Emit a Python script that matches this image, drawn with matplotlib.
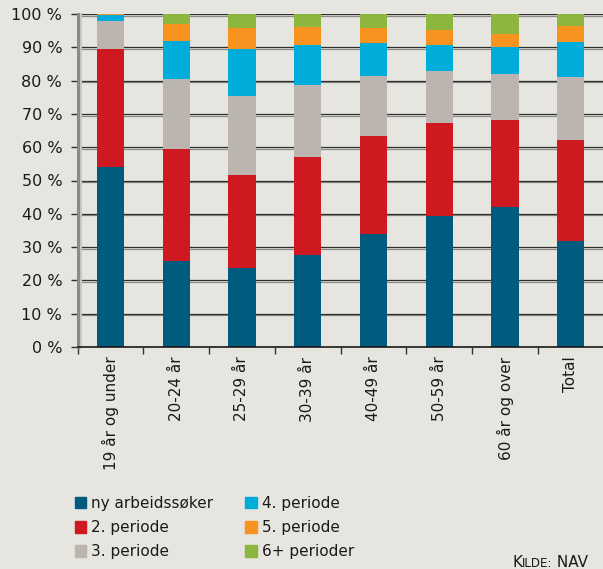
import matplotlib
matplotlib.use("Agg")
import matplotlib.pyplot as plt
import matplotlib.patheffects as pe
import numpy as np

categories = ["19 år og under", "20-24 år", "25-29 år", "30-39 år",
              "40-49 år", "50-59 år", "60 år og over", "Total"]
series_names = ["ny arbeidssøker", "2. periode", "3. periode",
                "4. periode", "5. periode", "6+ perioder"]
ny_arbeidssoker = [54.1, 25.8, 23.8, 27.6, 34.0, 39.4, 42.0, 31.8]
periode_2 = [35.4, 33.6, 27.8, 29.4, 29.3, 27.8, 26.1, 30.3]
periode_3 = [8.4, 21.1, 23.8, 21.7, 18.1, 15.7, 13.9, 19.0]
periode_4 = [1.8, 11.4, 14.1, 12.0, 9.9, 7.8, 8.1, 10.5]
periode_5 = [0.3, 5.2, 6.4, 5.4, 4.5, 4.6, 4.0, 4.9]
periode_6 = [0.0, 2.9, 4.1, 3.9, 4.2, 4.7, 5.9, 3.5]
y_ticks = [0, 10, 20, 30, 40, 50, 60, 70, 80, 90, 100]
y_tick_labels = [f"{v} %" for v in y_ticks]

colors = ["#005B7F", "#CE1920", "#BCB5AF", "#00ACD9", "#F7931E", "#8DB63F"]
bg = "#E6E5DF"

plt.rcParams['font.family'] = ['DejaVu Sans']
W, H = 603, 569
fig = plt.figure(figsize=(W / 100, H / 100), dpi=100, facecolor=bg)
ax = fig.add_axes([77.5/W, 222/H, (W-77.5)/W, 333/H], facecolor=bg)

series = [ny_arbeidssoker, periode_2, periode_3, periode_4, periode_5, periode_6]
x = np.arange(len(categories))
bottom = np.zeros(len(categories))
for name, vals, c in zip(series_names, series, colors):
    vals = np.array(vals)
    ax.bar(x, vals, bottom=bottom, width=0.415, color=c, label=name,
           zorder=3, linewidth=0)
    bottom += vals

shadow = [pe.SimpleLineShadow(offset=(0, -1.2), shadow_color='#8a8a86', alpha=1.0),
          pe.Normal()]
for v in y_ticks[1:]:
    ax.axhline(v, color='#2e2e2e', lw=0.9, zorder=2, path_effects=shadow)
ax.set_xlim(-0.5, 7.49)
ax.set_ylim(0, 100)
ax.set_yticks(y_ticks)
ax.set_yticklabels(y_tick_labels, fontsize=11.5, color='#1a1a1a')
ax.set_xticks(x)
ax.set_xticklabels(categories, rotation=90, fontsize=11, color='#1a1a1a')
ax.tick_params(axis='x', length=0, pad=7)
ax.set_xticks(np.arange(-0.5, 7.5, 1.0), minor=True)
ax.tick_params(axis='x', which='minor', length=5, width=1, color='#333333', direction='out')
ax.tick_params(axis='y', length=5, width=1, color='#2e2e2e', pad=6)

for s in ['top', 'right']:
    ax.spines[s].set_visible(False)
ax.spines['left'].set_color('#8a8a86')
ax.spines['left'].set_linewidth(2.2)
ax.spines['left'].set_path_effects([pe.SimpleLineShadow(offset=(2, 0), shadow_color='#c8c7c1', alpha=1.0), pe.Normal()])
ax.spines['bottom'].set_color('#1a1a1a')
ax.spines['bottom'].set_linewidth(1.2)
ax.spines['bottom'].set_zorder(4)

handles = [plt.Rectangle((0, 0), 1, 1, color=c) for c in colors]
leg = fig.legend(handles, series_names,
                 ncol=2, loc='upper left', bbox_to_anchor=(74.5/W, 1 - 496/H),
                 frameon=False, fontsize=11, handlelength=0.78, handleheight=0.78,
                 handletextpad=0.33, columnspacing=2.05, labelspacing=0.6,
                 borderpad=0, borderaxespad=0)
for t in leg.get_texts():
    t.set_color('#1a1a1a')

# "KILDE: NAV" in small caps, built from pieces
fig.canvas.draw()
r = fig.canvas.get_renderer()
base_y = (H - 567) / H
xpos = 512
for txt, size in [("K", 11), ("ILDE:", 8.6), (" NAV", 11)]:
    t = fig.text(xpos / W, base_y, txt, fontsize=size, color='#1a1a1a',
                 ha='left', va='baseline')
    xpos += t.get_window_extent(renderer=r).width

fig.savefig("out.png", dpi=100, facecolor=bg)
